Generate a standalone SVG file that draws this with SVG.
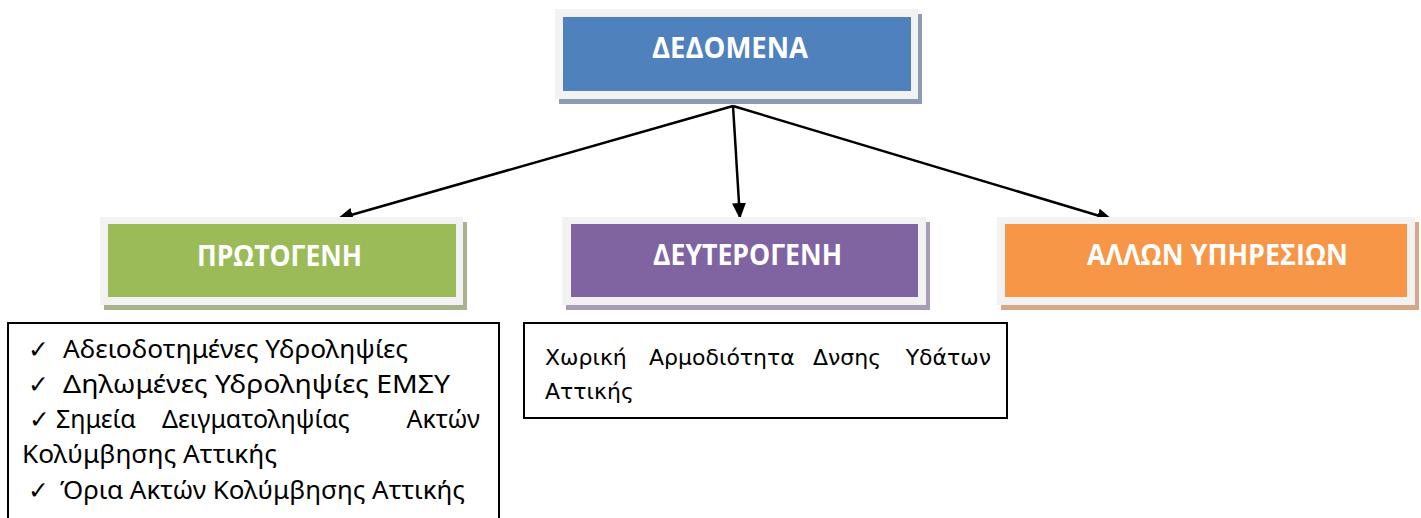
<svg xmlns="http://www.w3.org/2000/svg" width="1421" height="518" viewBox="0 0 1421 518">
<defs>
<style>
.frame{fill:#F2F2F2}
.head{font-family:"Open Sans","Noto Sans",sans-serif;font-weight:bold;font-size:28px;fill:#FFFFFF;text-anchor:start}
.body{font-family:"Noto Sans","Open Sans",sans-serif;font-size:25px;fill:#000000}
.body2{font-family:"DejaVu Sans","Noto Sans",sans-serif;font-size:22px;fill:#000000}
.chk{font-family:"DejaVu Sans",sans-serif;font-size:25px;fill:#000000}
.end{text-anchor:end}
.box{fill:#FFFFFF;stroke:#000000;stroke-width:2}
.conn{stroke:#000000;stroke-width:2.5;fill:none;marker-end:url(#ah)}
</style>
<marker id="ah" markerUnits="userSpaceOnUse" markerWidth="18" markerHeight="16" refX="16" refY="7" orient="auto">
<path d="M0,0 L16,7 L0,14 Z" fill="#000000"/>
</marker>
</defs>
<rect width="1421" height="518" fill="#FFFFFF"/>

<g id="connectors">
<line class="conn" x1="733" y1="106" x2="337" y2="219"/>
<line class="conn" x1="733" y1="106" x2="740" y2="219"/>
<line class="conn" x1="733" y1="106" x2="1113" y2="220"/>
</g>

<g id="node-dedomena">
<rect x="559" y="14" width="363" height="90" fill="#8C9AB3"/>
<rect class="frame" x="555" y="9" width="363" height="90"/>
<rect x="563" y="17" width="348" height="74" fill="#4F81BD"/>
<text class="head" x="652" y="58" textLength="156" lengthAdjust="spacingAndGlyphs">ΔΕΔΟΜΕΝΑ</text>
</g>

<g id="node-protogeni">
<rect x="104" y="222" width="363" height="88" fill="#A8B38D"/>
<rect class="frame" x="100" y="217" width="363" height="88"/>
<rect x="108" y="224" width="348" height="73" fill="#9BBB59"/>
<text class="head" x="197" y="266" textLength="165" lengthAdjust="spacingAndGlyphs">ΠΡΩΤΟΓΕΝΗ</text>
</g>

<g id="node-defterogeni">
<rect x="566" y="222" width="364" height="88" fill="#A99DB5"/>
<rect class="frame" x="562" y="217" width="364" height="88"/>
<rect x="571" y="224" width="347" height="73" fill="#8064A2"/>
<text class="head" x="653" y="265" textLength="189" lengthAdjust="spacingAndGlyphs">ΔΕΥΤΕΡΟΓΕΝΗ</text>
</g>

<g id="node-allon">
<rect x="1001" y="222" width="418" height="88" fill="#D6A888"/>
<rect class="frame" x="997" y="217" width="418" height="88"/>
<rect x="1005" y="224" width="402" height="73" fill="#F79646"/>
<text class="head" x="1087" y="265" textLength="261" lengthAdjust="spacingAndGlyphs">ΑΛΛΩΝ ΥΠΗΡΕΣΙΩΝ</text>
</g>

<g id="list-protogeni">
<rect class="box" x="8" y="323" width="491" height="200"/>
<text class="chk" x="28" y="358">✓</text>
<text class="body" x="63" y="358" textLength="345" lengthAdjust="spacingAndGlyphs">Αδειοδοτημένες Υδροληψίες</text>
<text class="chk" x="28" y="393">✓</text>
<text class="body" x="63" y="393" textLength="387" lengthAdjust="spacingAndGlyphs">Δηλωμένες Υδροληψίες ΕΜΣΥ</text>
<text class="chk" x="29" y="428">✓</text>
<text class="body" x="56" y="428">Σημεία</text>
<text class="body" x="162" y="428">Δειγματοληψίας</text>
<text class="body end" x="480" y="428">Ακτών</text>
<text class="body" x="22" y="463" textLength="255" lengthAdjust="spacingAndGlyphs">Κολύμβησης Αττικής</text>
<text class="chk" x="28" y="499">✓</text>
<text class="body" x="60" y="499" textLength="405" lengthAdjust="spacingAndGlyphs">Όρια Ακτών Κολύμβησης Αττικής</text>
</g>

<g id="list-defterogeni">
<rect class="box" x="524" y="323" width="483" height="95"/>
<text class="body2" x="545" y="365">Χωρική</text>
<text class="body2" x="649" y="365">Αρμοδιότητα</text>
<text class="body2" x="813" y="365">Δνσης</text>
<text class="body2 end" x="991" y="365">Υδάτων</text>
<text class="body2" x="545" y="399">Αττικής</text>
</g>
</svg>
